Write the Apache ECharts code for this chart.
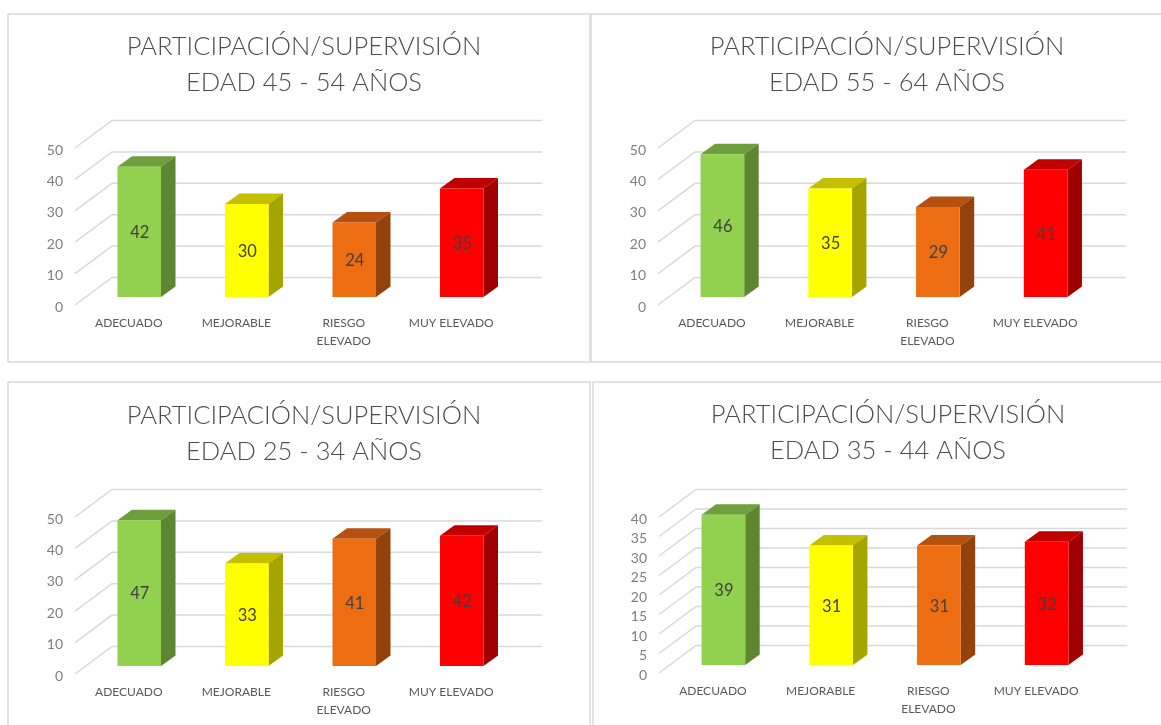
<!DOCTYPE html>
<html>
<head>
<meta charset="utf-8">
<title>Participación/Supervisión</title>
<script src="https://cdn.jsdelivr.net/npm/echarts@6/dist/echarts.min.js"></script>
<style>
  html, body { margin: 0; padding: 0; background: #fff; }
  #chart { width: 1161px; height: 725px; }
</style>
</head>
<body>
<div id="chart"></div>
<script>
const categories = ['ADECUADO', 'MEJORABLE', 'RIESGO\nELEVADO', 'MUY ELEVADO'];

const titles = [
  'PARTICIPACIÓN/SUPERVISIÓN\nEDAD 45 - 54 AÑOS',
  'PARTICIPACIÓN/SUPERVISIÓN\nEDAD 55 - 64 AÑOS',
  'PARTICIPACIÓN/SUPERVISIÓN\nEDAD 25 - 34 AÑOS',
  'PARTICIPACIÓN/SUPERVISIÓN\nEDAD 35 - 44 AÑOS'
];

const values4554 = [42, 30, 24, 35];
const values5564 = [46, 35, 29, 41];
const values2534 = [47, 33, 41, 42];
const values3544 = [39, 31, 31, 32];

const ticksTo50 = [0, 10, 20, 30, 40, 50];
const ticksTo40 = [0, 5, 10, 15, 20, 25, 30, 35, 40];

// front, top, side
const barColors = [
  ['#92d050', '#6f9e3c', '#5e8530'],
  ['#ffff00', '#c4c000', '#a5a500'],
  ['#ed6d13', '#b5500f', '#93420b'],
  ['#ff0000', '#c00000', '#a00000']
];

// layout of each panel: frame + front plane of the plot
const panels = [
  { values: values4554, ticks: ticksTo50, frame: [8, 14, 582, 348], plot: [75, 148, 430, 157], titleX: 299, titleY: 24 },
  { values: values5564, ticks: ticksTo50, frame: [591, 14, 575, 348], plot: [658, 148, 431, 157], titleX: 882, titleY: 24 },
  { values: values2534, ticks: ticksTo50, frame: [8, 382, 582, 350], plot: [75, 517, 430, 157], titleX: 299, titleY: 393 },
  { values: values3544, ticks: ticksTo40, frame: [593, 382, 575, 350], plot: [659, 517, 431, 156], titleX: 883, titleY: 392 }
];

const WALL_DX = 37;
const WALL_DY = -27.5;
// bars come out slightly shorter than the wall scale in the reference (3D perspective)
const BAR_SCALE = 0.988;

function renderWall(params, api) {
  const c = params.coordSys;
  const y = api.coord([0, api.value(0)])[1];
  return {
    type: 'polyline',
    shape: {
      points: [
        [c.x, y],
        [c.x + WALL_DX, y + WALL_DY],
        [c.x + c.width + WALL_DX, y + WALL_DY]
      ]
    },
    style: { fill: 'none', stroke: '#d9d9d9', lineWidth: 1.5 }
  };
}

function renderBar(params, api) {
  const idx = api.value(0);
  const val = api.value(1);
  const base = api.coord([idx, 0]);
  const top = api.coord([idx, val]);
  const w = api.size([1, 0])[0] * 0.405;
  const cols = barColors[idx];
  // bar sits a little behind the front plane
  const x0 = base[0] + 10.5 - w / 2;
  const x1 = x0 + w;
  const y0 = base[1] - 8;
  const y1 = y0 - (base[1] - top[1]) * BAR_SCALE;
  const dx = 14.5;
  const dy = -10.5;
  return {
    type: 'group',
    children: [
      { type: 'polygon', shape: { points: [[x0, y1], [x1, y1], [x1 + dx, y1 + dy], [x0 + dx, y1 + dy]] }, style: { fill: cols[1] } },
      { type: 'polygon', shape: { points: [[x1, y0], [x1 + dx, y0 + dy], [x1 + dx, y1 + dy], [x1, y1]] }, style: { fill: cols[2] } },
      { type: 'rect', shape: { x: x0, y: y1, width: w, height: y0 - y1 }, style: { fill: cols[0] } },
      {
        type: 'text',
        style: {
          text: String(val),
          x: (x0 + x1) / 2 + 0.5,
          y: (y0 + y1) / 2 + 1,
          align: 'center',
          verticalAlign: 'middle',
          fill: '#404040',
          font: '16.5px Lato'
        }
      }
    ]
  };
}

const option = {
  backgroundColor: '#fff',
  animation: false,
  title: [],
  grid: [],
  xAxis: [],
  yAxis: [],
  series: [],
  graphic: []
};

panels.forEach((p, i) => {
  option.graphic.push({
    type: 'rect',
    silent: true,
    z: -1,
    shape: { x: p.frame[0], y: p.frame[1], width: p.frame[2], height: p.frame[3] },
    style: { fill: 'none', stroke: '#d9d9d9', lineWidth: 1.5 }
  });
  option.title.push({
    text: titles[i],
    left: p.titleX,
    top: p.titleY,
    textAlign: 'center',
    textStyle: {
      fontFamily: 'Lato',
      fontWeight: 300,
      fontSize: 25.5,
      lineHeight: 36,
      color: '#4d4d4d'
    }
  });
  option.grid.push({ left: p.plot[0], top: p.plot[1], width: p.plot[2], height: p.plot[3] });
  option.xAxis.push({
    type: 'category',
    gridIndex: i,
    data: categories,
    axisLine: { show: false },
    axisTick: { show: false },
    splitLine: { show: false },
    axisLabel: {
      interval: 0,
      margin: 9,
      fontFamily: 'Lato',
      fontSize: 12,
      lineHeight: 18,
      color: '#595959'
    }
  });
  option.yAxis.push({
    type: 'value',
    gridIndex: i,
    min: 0,
    max: p.ticks[p.ticks.length - 1],
    interval: p.ticks[1] - p.ticks[0],
    axisLine: { show: false },
    axisTick: { show: false },
    splitLine: { show: false },
    axisLabel: {
      margin: 12,
      fontFamily: 'Lato',
      fontSize: 14,
      color: '#7f7f7f',
      formatter: '{t|{value}}',
      // nudges the labels down onto the ends of the wall lines
      rich: { t: { padding: [4, 0, 0, 0], fontFamily: 'Lato', fontSize: 14, color: '#7f7f7f' } }
    }
  });
  option.series.push({
    type: 'custom',
    xAxisIndex: i,
    yAxisIndex: i,
    silent: true,
    z: 1,
    renderItem: renderWall,
    encode: { y: 0 },
    data: p.ticks.map(t => [t])
  });
  option.series.push({
    type: 'custom',
    xAxisIndex: i,
    yAxisIndex: i,
    silent: true,
    z: 2,
    renderItem: renderBar,
    encode: { x: 0, y: 1 },
    data: p.values.map((v, j) => [j, v])
  });
});

const chart = echarts.init(document.getElementById('chart'), null, { renderer: 'canvas' });
chart.setOption(option);
</script>
</body>
</html>
